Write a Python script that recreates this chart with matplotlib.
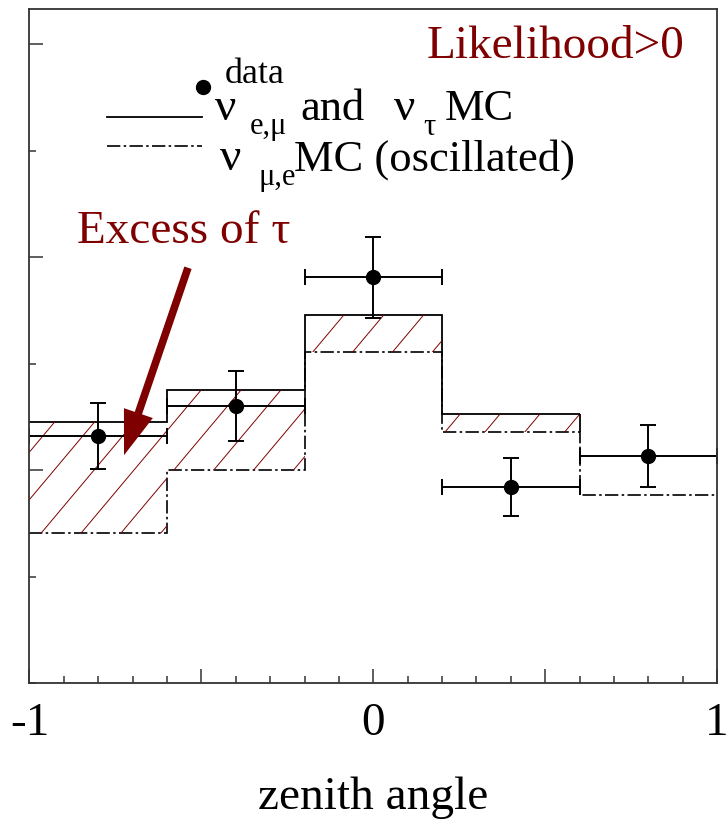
import numpy as np
import matplotlib
matplotlib.use('Agg')
import matplotlib.pyplot as plt
from matplotlib.ticker import MultipleLocator

plt.rcParams['font.family'] = ['Liberation Serif', 'DejaVu Serif']
plt.rcParams['axes.unicode_minus'] = False

# zenith angle bins
bin_edges = [-1.0, -0.6, -0.2, 0.2, 0.6, 1.0]

# data points
data_x = [-0.8, -0.4, 0.0, 0.4, 0.8]
data_y = [2.32, 2.60, 3.81, 1.84, 2.13]
data_xerr = [0.2, 0.2, 0.2, 0.2, 0.2]
data_yerr = [0.31, 0.33, 0.38, 0.27, 0.29]

# nu_e,mu + nu_tau MC (first four bins)
mc_tau = [2.45, 2.75, 3.46, 2.53]
# nu_mu,e MC (oscillated)
mc_osc = [1.41, 2.00, 3.11, 2.36, 1.77]

dark_red = '#7f0000'

fig = plt.figure(figsize=(7.28, 8.19), dpi=100)
ax = fig.add_axes([0.0405, 0.166, 0.9445, 0.823])

# hatched band between the two MC curves
band = ax.fill_between(bin_edges[:5], mc_osc[:4] + [mc_osc[3]], mc_tau + [mc_tau[3]],
                       step='post', facecolor='none', edgecolor='none')
band_path = band.get_paths()[0]
slope = np.tan(np.radians(50)) * 687.5 / 674
for x0 in np.arange(-1.5, 1.2, 0.058):
    ln, = ax.plot([x0, x0 + 1 / slope], [0, 1], color=dark_red, lw=0.7,
                  transform=ax.transAxes)
    ln.set_clip_path(band_path, ax.transData)

# MC histograms
ax.stairs(mc_tau, bin_edges[:5], baseline=None, color='black', lw=1.3)
ax.vlines(bin_edges[4], mc_osc[3], mc_tau[3], color='black', lw=1.3)
ax.stairs(mc_osc, bin_edges, baseline=None, color='black', lw=1.2,
          linestyle=(0, (8, 2, 1.5, 2)))

# data with error bars
ax.errorbar(data_x, data_y, xerr=data_xerr, yerr=data_yerr, fmt='o', color='black',
            ms=10, elinewidth=1.4, capsize=5.5, capthick=1.4)

ax.set_xlim(-1, 1)
ax.set_ylim(0, 6.33)

ax.set_xticks([-1, -0.5, 0, 0.5, 1], ['-1', '', '0', '', '1'])
ax.xaxis.set_minor_locator(MultipleLocator(0.1))
ax.set_yticks([2, 4, 6], ['', '', ''])
ax.yaxis.set_minor_locator(MultipleLocator(1))
ax.tick_params(axis='both', which='both', direction='in', color='#333333', width=1.1)
ax.tick_params(axis='both', which='major', length=10)
ax.tick_params(axis='both', which='minor', length=5)
ax.tick_params(axis='x', labelsize=34, pad=14)
for sp in ax.spines.values():
    sp.set_color('#333333')
    sp.set_linewidth(1.3)

ax.set_xlabel('zenith angle', fontsize=34, labelpad=23)

# legend drawn by hand
tr = ax.transAxes
ax.plot([0.2524], [0.8843], 'o', color='black', ms=10, transform=tr, clip_on=False)
ax.text(0.2844, 0.890, 'data', fontsize=26, transform=tr, va='baseline')
ax.plot([0.1127, 0.2509], [0.8398, 0.8398], color='black', lw=1.3, transform=tr)
ax.plot([0.1127, 0.2509], [0.7967, 0.7967], color='black', lw=1.2,
        linestyle=(0, (8, 2, 1.5, 2)), transform=tr)

ax.text(0.2698, 0.8353, 'ν', fontsize=34, transform=tr, va='baseline')
ax.text(0.3207, 0.815, 'e,μ', fontsize=22, transform=tr, va='baseline')
ax.text(0.3935, 0.8353, 'and', fontsize=32, transform=tr, va='baseline')
ax.text(0.5302, 0.8353, 'ν', fontsize=34, transform=tr, va='baseline')
ax.text(0.5725, 0.813, 'τ', fontsize=22, transform=tr, va='baseline')
ax.text(0.6035, 0.8353, 'MC', fontsize=32, transform=tr, va='baseline')

ax.text(0.2771, 0.7611, 'ν', fontsize=34, transform=tr, va='baseline')
ax.text(0.3324, 0.7389, 'μ,e', fontsize=22, transform=tr, va='baseline')
ax.text(0.3853, 0.7611, 'MC (oscillated)', fontsize=32, transform=tr, va='baseline')

ax.text(0.952, 0.9273, 'Likelihood>0', fontsize=34, color=dark_red, transform=tr,
        ha='right', va='baseline')
ax.text(0.0691, 0.6528, 'Excess of τ', fontsize=34, color=dark_red, transform=tr,
        va='baseline')

# arrow pointing at the excess
ax.annotate('', xy=(-0.725, 2.14), xytext=(-0.539, 3.90),
            arrowprops=dict(arrowstyle='simple,head_length=3.2,head_width=2.2,tail_width=0.55',
                            mutation_scale=10, color=dark_red, shrinkA=0, shrinkB=0, lw=0))

fig.savefig('out.png', dpi=100)
